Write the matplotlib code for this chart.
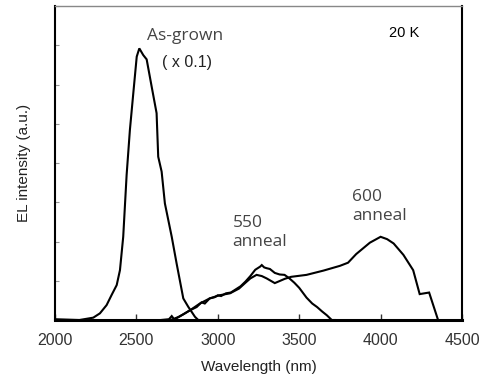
import numpy as np
import matplotlib.pyplot as plt

# EL spectra at 20 K (wavelength nm, intensity a.u.)
wl_asgrown = [2000, 2150, 2235, 2276, 2317, 2348, 2379, 2399, 2419, 2440, 2460,
              2481, 2502, 2518, 2542, 2563, 2594, 2624, 2634, 2655, 2675, 2717,
              2747, 2788, 2818, 2860, 2880, 3000]
el_asgrown = [0.02, 0.0, 0.06, 0.17, 0.38, 0.64, 0.89, 1.27, 2.12, 3.7, 4.84,
              5.78, 6.71, 6.92, 6.75, 6.64, 5.94, 5.27, 4.16, 3.78, 2.97, 2.12,
              1.44, 0.55, 0.34, 0.08, 0.0, 0.0]

wl_550 = [2650, 2700, 2717, 2730, 2760, 2790, 2830, 2870, 2900, 2920, 2950,
          2980, 3000, 3020, 3050, 3080, 3110, 3140, 3170, 3200, 3230, 3260,
          3270, 3285, 3300, 3320, 3350, 3380, 3410, 3440, 3470, 3500, 3545,
          3580, 3610, 3640, 3670, 3700, 3720]
el_550 = [0.0, 0.02, 0.1, 0.03, 0.08, 0.15, 0.25, 0.33, 0.45, 0.42, 0.55,
          0.58, 0.63, 0.61, 0.68, 0.70, 0.78, 0.86, 0.98, 1.12, 1.28, 1.36,
          1.40, 1.34, 1.32, 1.30, 1.20, 1.16, 1.15, 1.06, 0.95, 0.82, 0.57,
          0.42, 0.33, 0.22, 0.12, 0.0, 0.0]

wl_600 = [2700, 2740, 2790, 2830, 2890, 2950, 3010, 3075, 3130, 3170, 3200,
          3238, 3270, 3300, 3350, 3412, 3450, 3545, 3650, 3750, 3800, 3850,
          3934, 4000, 4040, 4080, 4140, 4200, 4240, 4298, 4353]
el_600 = [0.0, 0.03, 0.15, 0.25, 0.42, 0.55, 0.63, 0.68, 0.80, 0.95, 1.06,
          1.15, 1.12, 1.06, 0.94, 1.05, 1.10, 1.15, 1.26, 1.38, 1.46, 1.68,
          1.97, 2.12, 2.06, 1.95, 1.66, 1.27, 0.66, 0.70, 0.0]

fig = plt.figure(figsize=(4.85, 3.87), dpi=100)
ax = fig.add_axes([0.1134, 0.1731, 0.8392, 0.8114])

for wl, el in [(wl_asgrown, el_asgrown), (wl_550, el_550), (wl_600, el_600)]:
    ax.plot(wl, el, color='black', lw=1.5, solid_joinstyle='miter')

ax.set_xlim(2000, 4500)
ax.set_ylim(0, 8)
ax.set_xticks([2000, 2500, 3000, 3500, 4000, 4500])
ax.set_yticks(range(0, 9))
ax.set_yticklabels([])
ax.tick_params(axis='x', direction='in', length=4, width=1, color='#333333',
               labelsize=11.5, labelcolor='#333333', pad=9)
ax.tick_params(axis='y', direction='in', length=3, width=0.8, color='#999999')
for lab in ax.get_xticklabels():
    lab.set_fontfamily('Liberation Sans')

ax.spines['bottom'].set_linewidth(2.2)
ax.spines['left'].set_linewidth(1.5)
ax.spines['right'].set_linewidth(1.5)
ax.spines['top'].set_linewidth(1.0)
ax.spines['top'].set_color('#888888')

ax.set_xlabel('Wavelength (nm)', fontsize=11, family='Liberation Sans',
              color='#222222', labelpad=9)
ax.set_ylabel('EL intensity (a.u.)', fontsize=11, family='Liberation Sans',
              color='#222222', labelpad=14)

ann = dict(fontsize=12.5, family='Open Sans', color='#444444')
ax.text(2565, 7.24, 'As-grown', ha='left', va='center', **ann)
ax.text(2655, 6.55, '( x 0.1)', ha='left', va='center', fontsize=11.5,
        family='Liberation Sans', color='#222222')
ax.text(3090, 2.23, '550\nanneal', ha='left', va='center', linespacing=1.3, **ann)
ax.text(3825, 2.9, '600\nanneal', ha='left', va='center', linespacing=1.25, **ann)
ax.text(4050, 7.3, '20 K', ha='left', va='center', fontsize=10.5,
        family='Liberation Sans', color='black')

fig.savefig('out.png', dpi=100, facecolor='white')
